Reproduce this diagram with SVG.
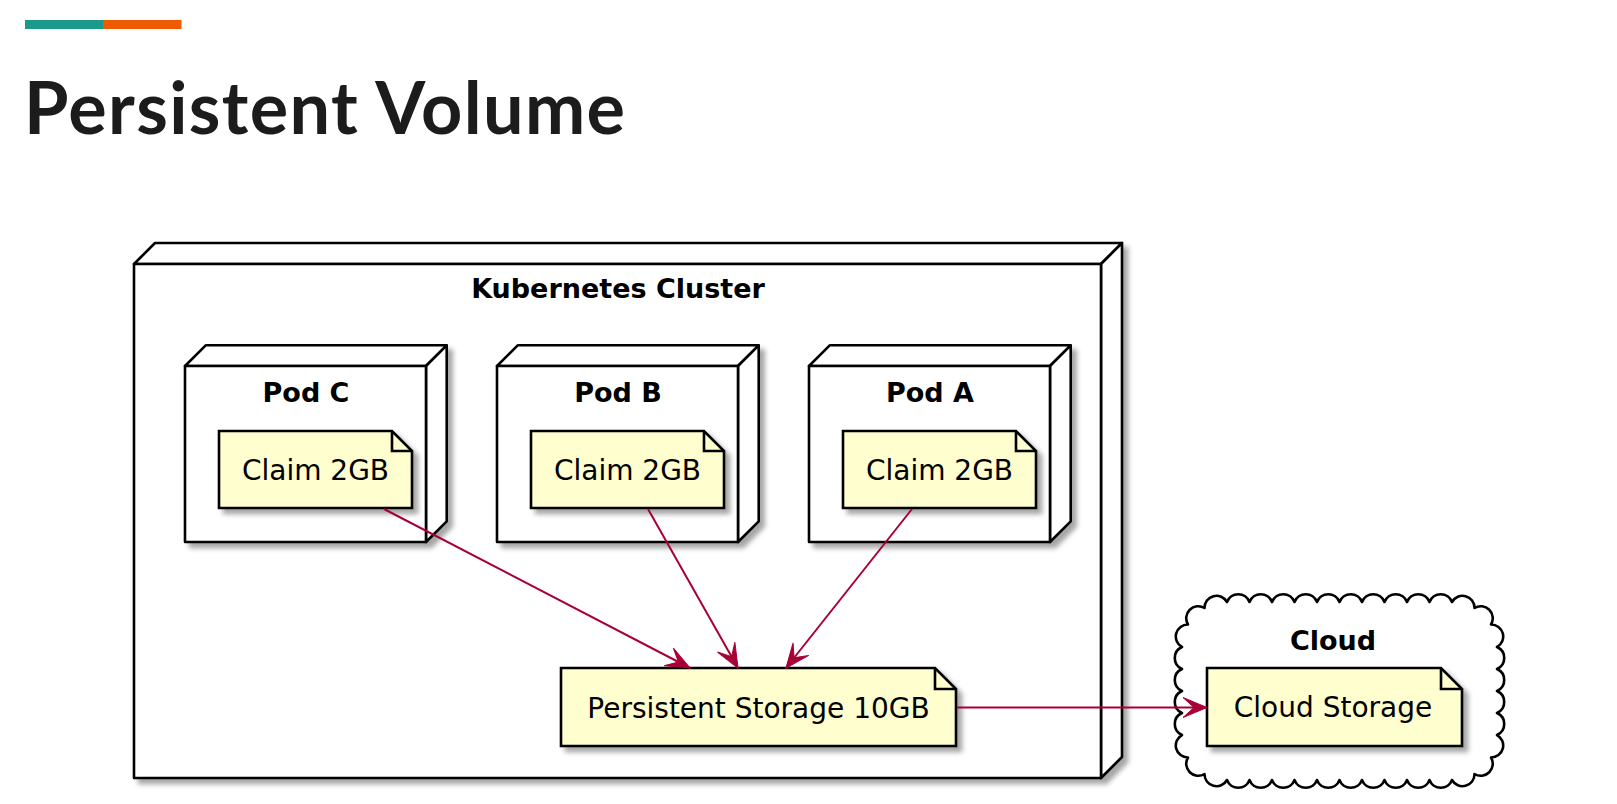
<svg xmlns="http://www.w3.org/2000/svg" width="1617" height="804" viewBox="0 0 1617 804">
<style>
.node{fill:#fff;stroke:#000;stroke-width:2.6;stroke-linejoin:round}
.note{fill:#FEFECE;stroke:#000;stroke-width:2.6;stroke-linejoin:miter}
.fold{fill:none;stroke:#000;stroke-width:2.6}
.lbl{font-family:"DejaVu Sans",sans-serif;font-weight:bold;font-size:27px;fill:#000;text-anchor:middle}
.txt{font-family:"DejaVu Sans",sans-serif;font-size:28px;fill:#000;text-anchor:middle}
.edge{stroke:#A80036;stroke-width:2;fill:none;marker-end:url(#arr)}
</style>
<defs>
<filter id="sh" x="-10%" y="-10%" width="130%" height="130%">
<feDropShadow dx="5" dy="5" stdDeviation="2.5" flood-color="#000" flood-opacity="0.35"/>
</filter>
<marker id="arr" markerUnits="userSpaceOnUse" viewBox="-30 -15 35 30" refX="0" refY="0" markerWidth="35" markerHeight="30" orient="auto" overflow="visible">
<path d="M0,0 L-24,-10 L-13,0 L-24,10 Z" fill="#A80036" stroke="#A80036" stroke-width="1" stroke-linejoin="miter"/>
</marker>
</defs>
<rect width="1617" height="804" fill="#fff"/>
<rect x="25" y="20" width="78" height="9" fill="#1B998B"/>
<rect x="103" y="20" width="78.5" height="9" fill="#ED5A00"/>
<text x="24" y="134" font-family="Lato, sans-serif" font-weight="700" font-size="72" fill="#1c1c1c" textLength="601" lengthAdjust="spacing">Persistent Volume</text>

<g id="cluster" filter="url(#sh)">
<path class="node" d="M134,264 L155,243 L1122,243 L1101,264 Z"/>
<path class="node" d="M1101,264 L1122,243 L1122,757 L1101,778 Z"/>
<rect class="node" x="134" y="264" width="967" height="514"/>
</g>
<text class="lbl" x="618" y="298">Kubernetes Cluster</text>

<g id="podC">
<g filter="url(#sh)">
<path class="node" d="M185,366 L205.7,345.3 L446.7,345.3 L426,366 Z"/>
<path class="node" d="M426,366 L446.7,345.3 L446.7,521.3 L426,542 Z"/>
<rect class="node" x="185" y="366" width="241" height="176"/>
</g>
<text class="lbl" x="306" y="402">Pod C</text>
</g>
<g id="podB">
<g filter="url(#sh)">
<path class="node" d="M497,366 L517.7,345.3 L758.7,345.3 L738,366 Z"/>
<path class="node" d="M738,366 L758.7,345.3 L758.7,521.3 L738,542 Z"/>
<rect class="node" x="497" y="366" width="241" height="176"/>
</g>
<text class="lbl" x="618" y="402">Pod B</text>
</g>
<g id="podA">
<g filter="url(#sh)">
<path class="node" d="M809,366 L829.7,345.3 L1070.7,345.3 L1050,366 Z"/>
<path class="node" d="M1050,366 L1070.7,345.3 L1070.7,521.3 L1050,542 Z"/>
<rect class="node" x="809" y="366" width="241" height="176"/>
</g>
<text class="lbl" x="930" y="402">Pod A</text>
</g>

<g id="claimC">
<path class="note" filter="url(#sh)" d="M219,431 L392,431 L412,451 L412,508 L219,508 Z"/>
<path class="fold" d="M392,431 L392,451 L412,451"/>
<text class="txt" x="315.5" y="480">Claim 2GB</text>
</g>
<g id="claimB">
<path class="note" filter="url(#sh)" d="M531,431 L704,431 L724,451 L724,508 L531,508 Z"/>
<path class="fold" d="M704,431 L704,451 L724,451"/>
<text class="txt" x="627.5" y="480">Claim 2GB</text>
</g>
<g id="claimA">
<path class="note" filter="url(#sh)" d="M843,431 L1016,431 L1036,451 L1036,508 L843,508 Z"/>
<path class="fold" d="M1016,431 L1016,451 L1036,451"/>
<text class="txt" x="939.5" y="480">Claim 2GB</text>
</g>

<g id="storage">
<path class="note" filter="url(#sh)" d="M561,668 L935,668 L956,689 L956,746 L561,746 Z"/>
<path class="fold" d="M935,668 L935,689 L956,689"/>
<text class="txt" x="758.5" y="718">Persistent Storage 10GB</text>
</g>

<g id="cloud">
<path fill="#fff" stroke="#000" stroke-width="2.6" stroke-linejoin="round" d="M1227,602
A12,12 0 0 1 1249.5,602 A12,12 0 0 1 1272,602 A12,12 0 0 1 1294.5,602 A12,12 0 0 1 1317,602 A12,12 0 0 1 1339.5,602 A12,12 0 0 1 1362,602 A12,12 0 0 1 1384.5,602 A12,12 0 0 1 1407,602 A12,12 0 0 1 1429.5,602 A12,12 0 0 1 1452,602
A12,12 0 0 1 1474.5,608 A12,12 0 0 1 1491,624.5 A12,12 0 0 1 1497,647
A12,12 0 0 1 1497,669 A12,12 0 0 1 1497,691 A12,12 0 0 1 1497,713 A12,12 0 0 1 1497,735
A12,12 0 0 1 1491,757.5 A12,12 0 0 1 1474.5,774 A12,12 0 0 1 1452,780
A12,12 0 0 1 1429.5,780 A12,12 0 0 1 1407,780 A12,12 0 0 1 1384.5,780 A12,12 0 0 1 1362,780 A12,12 0 0 1 1339.5,780 A12,12 0 0 1 1317,780 A12,12 0 0 1 1294.5,780 A12,12 0 0 1 1272,780 A12,12 0 0 1 1249.5,780 A12,12 0 0 1 1227,780
A12,12 0 0 1 1204.5,774 A12,12 0 0 1 1188,757.5 A12,12 0 0 1 1182,735
A12,12 0 0 1 1182,713 A12,12 0 0 1 1182,691 A12,12 0 0 1 1182,669 A12,12 0 0 1 1182,647
A12,12 0 0 1 1188,624.5 A12,12 0 0 1 1204.5,608 A12,12 0 0 1 1227,602 Z"/>
<text class="lbl" x="1333" y="650">Cloud</text>
</g>
<g id="cloudStorage">
<path class="note" filter="url(#sh)" d="M1207,668 L1441,668 L1462,689 L1462,746 L1207,746 Z"/>
<path class="fold" d="M1441,668 L1441,689 L1462,689"/>
<text class="txt" x="1333" y="717">Cloud Storage</text>
</g>

<g id="connectors">
<line class="edge" x1="384" y1="509" x2="690" y2="668"/>
<line class="edge" x1="648" y1="509" x2="738" y2="668"/>
<line class="edge" x1="912" y1="509" x2="786" y2="668"/>
<line class="edge" x1="957" y1="707.5" x2="1207" y2="707.5"/>
</g>
</svg>
